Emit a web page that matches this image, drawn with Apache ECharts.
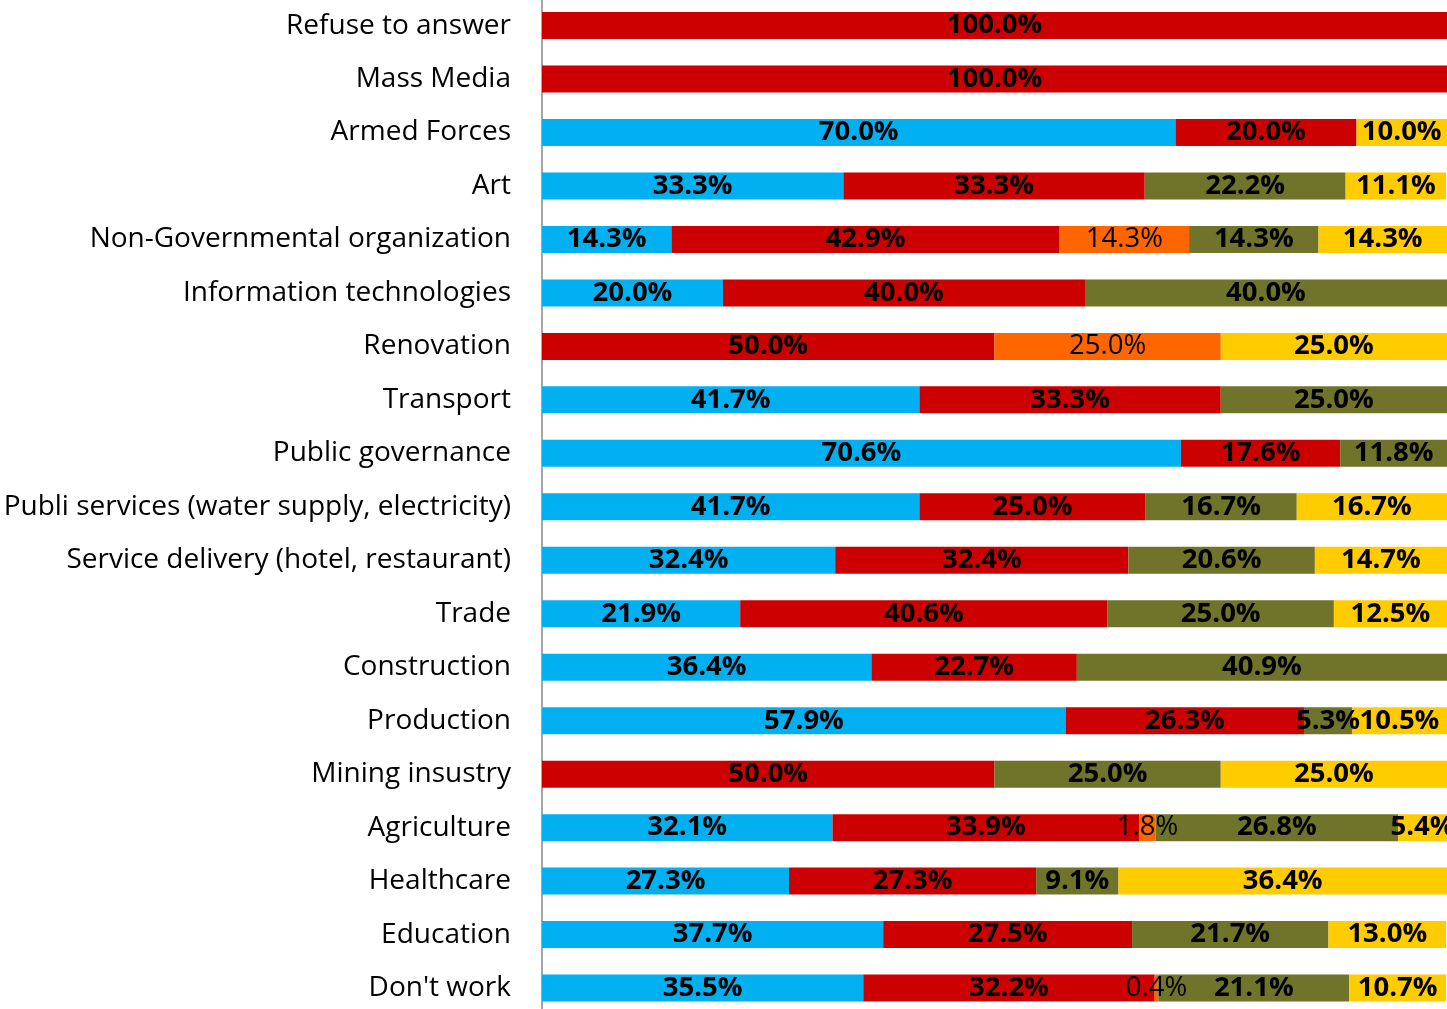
<!DOCTYPE html>
<html><head><meta charset="utf-8">
<script src="https://cdn.jsdelivr.net/npm/echarts@6/dist/echarts.min.js"></script>
<style>html,body{margin:0;padding:0;background:#fff;overflow:hidden}#c{position:absolute;left:0;top:-10px;width:1447px;height:1040px}</style>
</head><body><div id="c"></div>
<script>
const categories = ["Refuse to answer","Mass Media","Armed Forces","Art","Non-Governmental organization","Information technologies","Renovation","Transport","Public governance","Publi services (water supply, electricity)","Service delivery (hotel, restaurant)","Trade","Construction","Production","Mining insustry","Agriculture","Healthcare","Education","Don't work"];
const blueVals   = [null,null,70.0,33.3,14.3,20.0,null,41.7,70.6,41.7,32.4,21.9,36.4,57.9,null,32.1,27.3,37.7,35.5];
const redVals    = [100.0,100.0,20.0,33.3,42.9,40.0,50.0,33.3,17.6,25.0,32.4,40.6,22.7,26.3,50.0,33.9,27.3,27.5,32.2];
const orangeVals = [null,null,null,null,14.3,null,25.0,null,null,null,null,null,null,null,null,1.8,null,null,0.4];
const oliveVals  = [null,null,null,22.2,14.3,40.0,null,25.0,11.8,16.7,20.6,25.0,40.9,5.3,25.0,26.8,9.1,21.7,21.1];
const yellowVals = [null,null,10.0,11.1,14.3,null,25.0,null,null,16.7,14.7,12.5,null,10.5,25.0,5.4,36.4,13.0,10.7];

const FONT = 'Open Sans';
function mk(name, data, color, bold) {
  return {
    name, type: 'bar', stack: 'total', data, barWidth: 27,
    itemStyle: { color },
    label: {
      show: true, position: 'inside', color: '#000',
      fontFamily: FONT, fontSize: 27.5, fontWeight: bold ? 'bold' : 'normal',
      offset: [0, 1],
      formatter: p => (p.value == null ? '' : p.value.toFixed(1) + '%')
    },
    labelLayout: { hideOverlap: false }
  };
}
const chart = echarts.init(document.getElementById('c'), null, { renderer: 'canvas' });
chart.setOption({
  animation: false,
  grid: { left: 542, right: 0, top: 8.8, height: 1016, containLabel: false },
  xAxis: { type: 'value', min: 0, max: 100, show: false },
  yAxis: {
    type: 'category', data: categories, inverse: true,
    axisLine: { show: true, lineStyle: { color: '#A6A6A6', width: 2 } },
    axisTick: { show: false },
    axisLabel: { margin: 31, color: '#000', fontFamily: FONT, fontSize: 28 }
  },
  series: [
    mk('Blue', blueVals, '#00B0F0', true),
    mk('Red', redVals, '#CC0000', true),
    mk('Orange', orangeVals, '#FF6600', false),
    mk('Olive', oliveVals, '#6F742A', true),
    mk('Yellow', yellowVals, '#FFCC00', true)
  ]
});
</script></body></html>
